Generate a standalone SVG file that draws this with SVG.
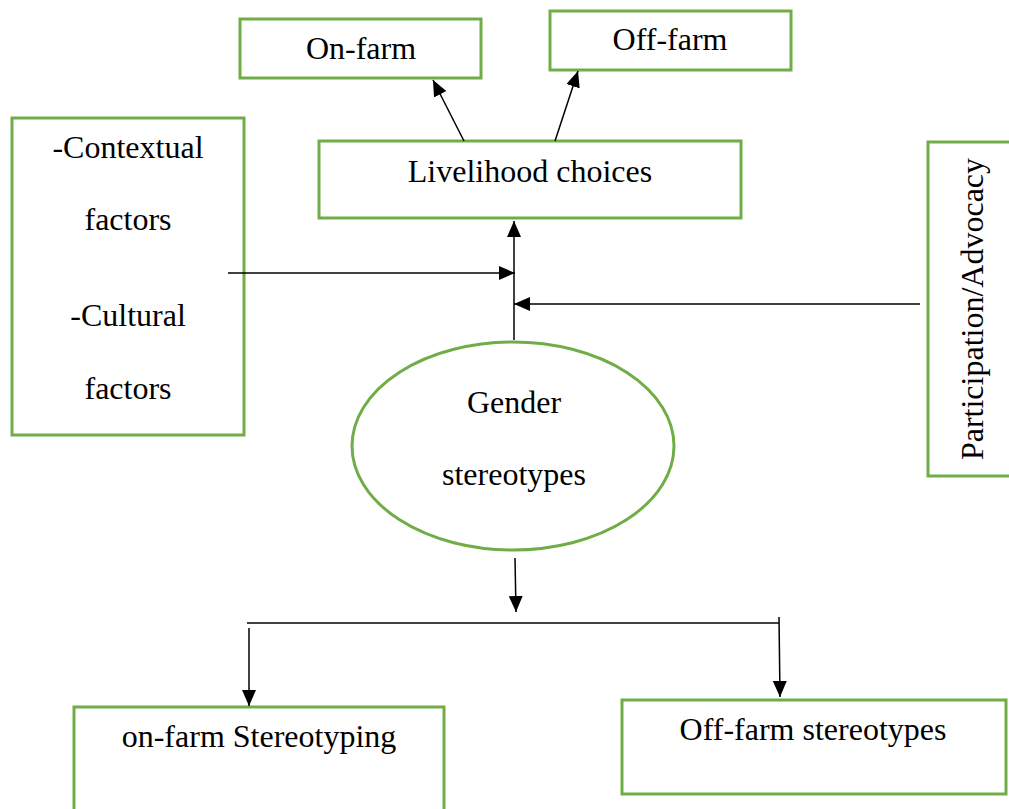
<svg xmlns="http://www.w3.org/2000/svg" width="1009" height="809" viewBox="0 0 1009 809">
<style>
.box{fill:#fff;stroke:#70ad47;stroke-width:3}
.t{font-family:"Liberation Serif",serif;font-size:32px;fill:#000;text-anchor:middle}
.c{stroke:#000;stroke-width:1.5;fill:none}
</style>
<defs>
<marker id="ahb" viewBox="0 0 16 14" refX="16" refY="7" markerWidth="16" markerHeight="14" markerUnits="userSpaceOnUse" orient="auto">
<path d="M0,0 L16,7 L0,14 z" fill="#000"/>
</marker>
</defs>
<rect width="1009" height="809" fill="#fff"/>
<g id="onfarm"><rect class="box" x="240" y="19" width="241" height="59"/><text class="t" x="361" y="59">On-farm</text></g>
<g id="offfarm"><rect class="box" x="550" y="11" width="241" height="59"/><text class="t" x="670" y="50">Off-farm</text></g>
<g id="livelihood"><rect class="box" x="319" y="141" width="422" height="77"/><text class="t" x="530" y="182">Livelihood choices</text></g>
<g id="factors"><rect class="box" x="12" y="118" width="232" height="317"/>
<text class="t" x="128" y="158">-Contextual</text><text class="t" x="128" y="230">factors</text>
<text class="t" x="128" y="326">-Cultural</text><text class="t" x="128" y="399">factors</text></g>
<g id="participation"><rect class="box" x="928" y="142" width="84" height="334"/>
<text class="t" transform="translate(983,309) rotate(-90)">Participation/Advocacy</text></g>
<g id="gender"><ellipse class="box" cx="513" cy="446" rx="161" ry="104"/>
<text class="t" x="514" y="413">Gender</text><text class="t" x="514" y="485">stereotypes</text></g>
<g id="onfarmst"><rect class="box" x="74" y="707" width="370" height="110"/><text class="t" x="259" y="747">on-farm Stereotyping</text></g>
<g id="offfarmst"><rect class="box" x="622" y="700" width="384" height="94"/><text class="t" x="813" y="740">Off-farm stereotypes</text></g>
<g id="connectors">
<line class="c" x1="464" y1="141" x2="433" y2="80" marker-end="url(#ahb)"/>
<line class="c" x1="555" y1="141" x2="578" y2="71" marker-end="url(#ahb)"/>
<line class="c" x1="514" y1="340" x2="514" y2="221" marker-end="url(#ahb)"/>
<line class="c" x1="228" y1="273" x2="515" y2="273" marker-end="url(#ahb)"/>
<line class="c" x1="920" y1="304" x2="514" y2="304" marker-end="url(#ahb)"/>
<line class="c" x1="515" y1="558" x2="516" y2="612" marker-end="url(#ahb)"/>
<line class="c" x1="247" y1="623" x2="779" y2="623"/>
<line class="c" x1="249" y1="628" x2="249" y2="706" marker-end="url(#ahb)"/>
<line class="c" x1="779" y1="617" x2="780" y2="697" marker-end="url(#ahb)"/>
</g>
</svg>
